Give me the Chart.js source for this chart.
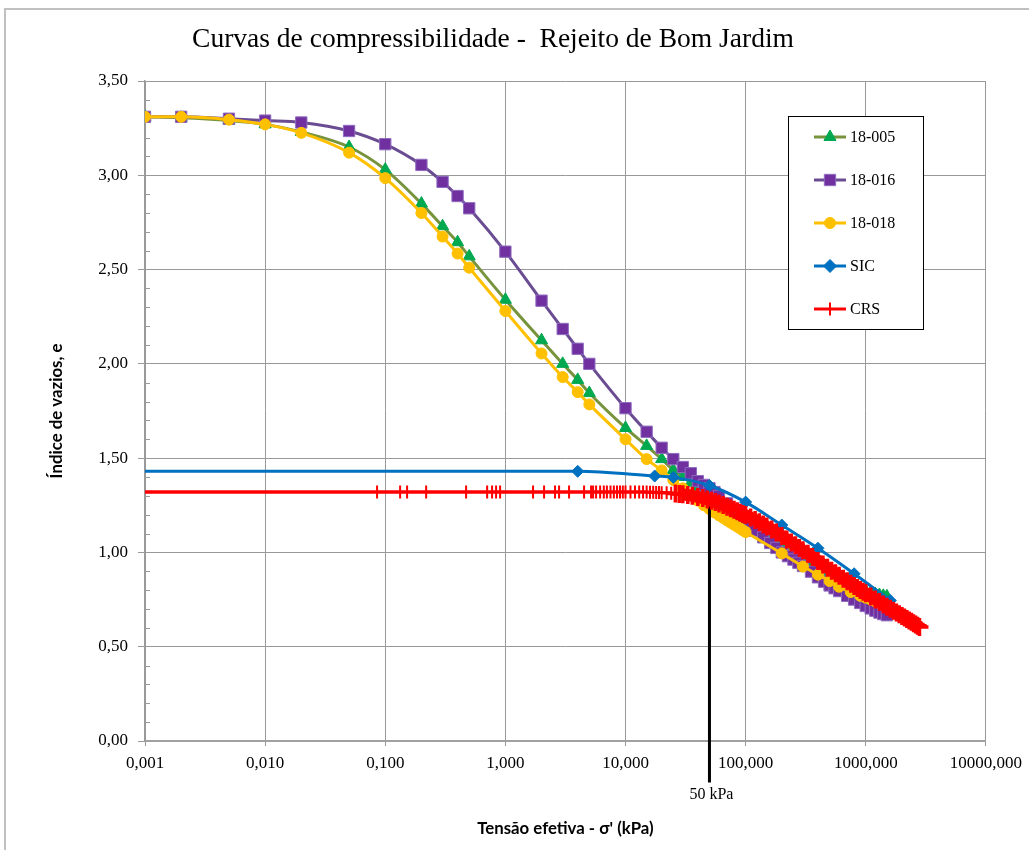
<!DOCTYPE html>
<html lang="pt">
<head>
<meta charset="utf-8">
<title>Curvas de compressibilidade - Rejeito de Bom Jardim</title>
<script src="https://cdn.jsdelivr.net/npm/chart.js@4.4.1/dist/chart.umd.min.js"></script>
<style>
  html, body { margin: 0; padding: 0; background: #fff; }
</style>
</head>
<body>
<canvas id="grafico" width="1029" height="850"></canvas>
<script>
// eixo x (log) - tensão efetiva em kPa
const xTicks = [0.001, 0.01, 0.1, 1, 10, 100, 1000, 10000];
const xTickLabels = ['0,001', '0,010', '0,100', '1,000', '10,000', '100,000', '1000,000', '10000,000'];

// ensaio 18-005
const tensao005 = [0.001, 0.002, 0.005, 0.01, 0.02, 0.05, 0.1, 0.2, 0.3, 0.4, 0.5,
  1, 2, 3, 4, 5, 10, 15, 20, 25, 30, 35, 40, 45, 50, 60, 70, 80, 90, 100,
  120, 140, 160, 180, 200, 250, 300, 350, 400, 450, 500, 600, 700, 800, 900, 1000,
  1100, 1200, 1300, 1400, 1500];
const vazios005 = [3.31, 3.305, 3.29, 3.27, 3.23, 3.15, 3.03, 2.85, 2.73, 2.645, 2.57,
  2.34, 2.125, 2.0, 1.915, 1.845, 1.66, 1.565, 1.495, 1.437, 1.40, 1.37, 1.345, 1.32, 1.30, 1.265, 1.235, 1.21, 1.19, 1.17,
  1.14, 1.11, 1.085, 1.062, 1.04, 1.0, 0.97, 0.945, 0.922, 0.905, 0.89, 0.862, 0.84, 0.822, 0.807, 0.795,
  0.786, 0.779, 0.774, 0.77, 0.767];

// ensaio 18-016
const tensao016 = [0.001, 0.002, 0.005, 0.01, 0.02, 0.05, 0.1, 0.2, 0.3, 0.4, 0.5,
  1, 2, 3, 4, 5, 10, 15, 20, 25, 30, 35, 40, 45, 50, 55, 60, 70, 80, 90, 100,
  110, 120, 140, 160, 180, 200, 225, 250, 275, 300, 350, 400, 450, 500, 550, 600,
  700, 800, 900, 1000, 1100, 1200, 1300, 1400, 1500];
const vazios016 = [3.31, 3.31, 3.30, 3.29, 3.28, 3.235, 3.165, 3.055, 2.965, 2.89, 2.825,
  2.595, 2.335, 2.185, 2.08, 2.0, 1.765, 1.64, 1.555, 1.495, 1.453, 1.42, 1.378, 1.358, 1.34, 1.32, 1.30, 1.26, 1.225, 1.19, 1.16,
  1.135, 1.115, 1.08, 1.05, 1.024, 1.0, 0.98, 0.962, 0.945, 0.928, 0.898, 0.868, 0.845, 0.825, 0.81, 0.795,
  0.77, 0.75, 0.732, 0.716, 0.703, 0.691, 0.681, 0.673, 0.667];

// ensaio 18-018
const tensao018 = [0.001, 0.002, 0.005, 0.01, 0.02, 0.05, 0.1, 0.2, 0.3, 0.4, 0.5,
  1, 2, 3, 4, 5, 10, 15, 20, 25, 30, 35, 40, 45, 50, 55, 60, 65, 70, 75, 80, 85, 90, 95, 100,
  200, 300, 400, 500, 600, 750, 900, 1000, 1100, 1200, 1300, 1400, 1500];
const vazios018 = [3.31, 3.31, 3.295, 3.27, 3.225, 3.12, 2.985, 2.80, 2.675, 2.585, 2.51,
  2.28, 2.055, 1.93, 1.85, 1.785, 1.60, 1.495, 1.435, 1.384, 1.34, 1.305, 1.275, 1.25, 1.23, 1.212, 1.197, 1.183, 1.17, 1.158, 1.147, 1.137, 1.127, 1.117, 1.108,
  0.995, 0.925, 0.882, 0.848, 0.818, 0.79, 0.77, 0.76, 0.75, 0.741, 0.733, 0.726, 0.72];

// ensaio SIC
const tensaoSIC = [0.001, 4, 17.5, 25, 50, 100, 200, 400, 800, 1600];
const vaziosSIC = [1.43, 1.43, 1.405, 1.398, 1.355, 1.267, 1.145, 1.022, 0.887, 0.745];

// ensaio CRS
const tensaoCRS = [0.001, 0.0855, 0.133, 0.152, 0.219, 0.471, 0.705, 0.775, 0.837, 0.904,
  1.70, 2.10, 2.59, 2.80, 3.39, 4.52, 5.17, 5.37, 5.69, 6.15, 6.6,
  7, 7.5, 8, 8.5, 9, 9.5, 10, 11, 12, 13, 14, 15, 16, 17, 18, 19, 20,
  22, 24, 26, 28, 30, 33, 36, 40, 44, 48, 52, 56, 60, 65, 70, 75, 80, 85, 90, 95, 100,
  110, 120, 130, 140, 150, 165, 180, 200, 220, 240, 260, 280, 300,
  330, 360, 400, 440, 480, 520, 560, 600, 650, 700, 750, 800, 850, 900, 950, 1000,
  1100, 1200, 1300, 1400, 1500, 1600, 1700, 1800, 1900, 2000, 2100, 2200, 2300, 2400, 2500, 2600, 2700, 2800];
const vaziosCRS = [1.32, 1.32, 1.32, 1.32, 1.32, 1.32, 1.32, 1.32, 1.32, 1.32,
  1.32, 1.32, 1.32, 1.32, 1.32, 1.32, 1.32, 1.32, 1.32, 1.32, 1.32,
  1.32, 1.32, 1.32, 1.32, 1.32, 1.32, 1.32, 1.32, 1.32, 1.32, 1.32, 1.32, 1.319, 1.319, 1.318, 1.318, 1.317,
  1.316, 1.314, 1.312, 1.31, 1.308, 1.304, 1.30, 1.294, 1.288, 1.281, 1.274, 1.267, 1.26, 1.251, 1.242, 1.234, 1.226, 1.218, 1.211, 1.204, 1.198,
  1.185, 1.172, 1.16, 1.148, 1.137, 1.121, 1.106, 1.087, 1.069, 1.053, 1.038, 1.024, 1.011,
  0.993, 0.976, 0.955, 0.936, 0.919, 0.903, 0.889, 0.876, 0.861, 0.847, 0.834, 0.822, 0.811, 0.801, 0.792, 0.783,
  0.766, 0.751, 0.737, 0.724, 0.712, 0.701, 0.691, 0.681, 0.672, 0.663, 0.655, 0.647, 0.639, 0.632, 0.625, 0.618, 0.611, 0.604];

// linha de referência em 50 kPa
const tensaoRef = [50, 50];
const vaziosRef = [1.29, -0.22];
const rotuloRef = '50 kPa';

const pares = (xs, ys) => xs.map((x, i) => ({ x: x, y: ys[i] }));
const semPrimeiro = r => ctx => (ctx.dataIndex === 0 ? 0 : r);
// no trecho adensado do CRS os marcadores se sobrepõem numa faixa mais grossa
const raioCRS = ctx => (ctx.dataIndex === 0 ? 0 : (ctx.raw && ctx.raw.x > 25 ? 9 : 6.5));
const bordaCRS = ctx => (ctx.raw && ctx.raw.x > 25 ? 3.5 : 2);
const faixaCRS = ctx => (ctx.p0.parsed.x >= 30 ? 12 : 3.5);

const serif = 'Liberation Serif, Times New Roman, serif';
const sans = 'Lato, Open Sans, sans-serif';

const datasets = [
  {
    label: '18-005', data: pares(tensao005, vazios005), order: 6,
    borderColor: '#77933C', borderWidth: 3,
    pointStyle: 'triangle', pointRadius: 7, pointBackgroundColor: '#00A84F', pointBorderColor: '#00A84F', pointBorderWidth: 1
  },
  {
    label: '18-016', data: pares(tensao016, vazios016), order: 5,
    borderColor: '#6A4C93', borderWidth: 3,
    pointStyle: 'rect', pointRadius: 8, pointBackgroundColor: '#7030A0', pointBorderColor: '#8E6BBE', pointBorderWidth: 1
  },
  {
    label: '18-018', data: pares(tensao018, vazios018), order: 4,
    borderColor: '#FFC000', borderWidth: 3,
    pointStyle: 'circle', pointRadius: 5.5, pointBackgroundColor: '#FFC000', pointBorderColor: '#FFC000', pointBorderWidth: 1
  },
  {
    label: 'SIC', data: pares(tensaoSIC, vaziosSIC), order: 3,
    borderColor: '#0070C0', borderWidth: 3,
    pointStyle: 'rectRot', pointRadius: semPrimeiro(6), pointBackgroundColor: '#0070C0', pointBorderColor: '#0070C0', pointBorderWidth: 1
  },
  {
    label: 'CRS', data: pares(tensaoCRS, vaziosCRS), order: 1,
    borderColor: '#FF0000', borderWidth: 3.5,
    segment: { borderWidth: faixaCRS },
    pointStyle: 'cross', pointRadius: raioCRS, pointBackgroundColor: '#FF0000', pointBorderColor: '#FF0000', pointBorderWidth: bordaCRS
  },
  {
    label: rotuloRef, data: pares(tensaoRef, vaziosRef), order: 2, referencia: true,
    borderColor: '#000', borderWidth: 3, pointRadius: 0, clip: false
  }
];

const extras = {
  id: 'extras',
  beforeDraw(chart) {
    const ctx = chart.ctx;
    ctx.save();
    ctx.fillStyle = '#fff';
    ctx.fillRect(0, 0, chart.width, chart.height);
    // moldura do gráfico
    ctx.strokeStyle = '#c0c0c0';
    ctx.lineWidth = 2;
    ctx.strokeRect(5, 9, chart.width + 20, chart.height + 20);
    ctx.restore();
  },
  beforeDatasetsDraw(chart) {
    // marcas secundárias do eixo y a cada 0,1
    const ctx = chart.ctx, y = chart.scales.y, left = chart.chartArea.left;
    ctx.save();
    ctx.strokeStyle = '#999';
    ctx.lineWidth = 1;
    for (let v = 0.1; v < 3.5; v += 0.1) {
      if (Math.abs(v / 0.5 - Math.round(v / 0.5)) < 1e-6) continue;
      const py = Math.round(y.getPixelForValue(v)) + 0.5;
      ctx.beginPath();
      ctx.moveTo(left, py);
      ctx.lineTo(left + 5, py);
      ctx.stroke();
    }
    ctx.restore();
  },
  afterDraw(chart) {
    const ctx = chart.ctx, xs = chart.scales.x, ys = chart.scales.y;
    ctx.save();
    // rótulo da linha de 50 kPa
    ctx.fillStyle = '#000';
    ctx.font = '16px ' + serif;
    ctx.textAlign = 'center';
    ctx.textBaseline = 'middle';
    ctx.fillText(rotuloRef, xs.getPixelForValue(tensaoRef[0]) + 2, ys.getPixelForValue(vaziosRef[1]) + 12);

    // legenda
    const box = { x: 788, y: 116, w: 135, h: 213 };
    ctx.fillStyle = '#fff';
    ctx.fillRect(box.x, box.y, box.w, box.h);
    ctx.strokeStyle = '#000';
    ctx.lineWidth = 1;
    ctx.strokeRect(box.x + 0.5, box.y + 0.5, box.w, box.h);
    const itens = chart.data.datasets.filter(d => !d.referencia);
    itens.forEach((d, i) => {
      const ry = 137 + i * 43;
      ctx.strokeStyle = d.borderColor;
      ctx.lineWidth = 3;
      ctx.beginPath();
      ctx.moveTo(814, ry);
      ctx.lineTo(846, ry);
      ctx.stroke();
      const bw = typeof d.pointBorderWidth === 'function' ? 2 : d.pointBorderWidth;
      const r = typeof d.pointRadius === 'function' ? 6.5 : d.pointRadius;
      ctx.fillStyle = d.pointBackgroundColor;
      ctx.strokeStyle = d.pointBorderColor;
      ctx.lineWidth = bw;
      Chart.helpers.drawPoint(ctx, { pointStyle: d.pointStyle, radius: r, rotation: 0, borderWidth: bw }, 830, ry);
      ctx.fillStyle = '#000';
      ctx.font = '16px ' + serif;
      ctx.textAlign = 'left';
      ctx.textBaseline = 'middle';
      ctx.fillText(d.label, 850, ry + 1);
    });
    ctx.restore();
  }
};

new Chart(document.getElementById('grafico'), {
  type: 'line',
  data: { datasets: datasets },
  plugins: [extras],
  options: {
    responsive: false,
    animation: false,
    devicePixelRatio: 1,
    layout: { padding: { left: 0, right: 43, top: 0, bottom: 0 } },
    elements: { line: { cubicInterpolationMode: 'monotone' } },
    plugins: {
      legend: { display: false },
      tooltip: { enabled: false },
      title: {
        display: true,
        text: 'Curvas de compressibilidade -  Rejeito de Bom Jardim',
        color: '#000',
        font: { family: serif, size: 27.5, weight: 'normal' },
        padding: { top: 23, bottom: 25 }
      }
    },
    scales: {
      x: {
        type: 'logarithmic',
        min: 0.001,
        max: 10000,
        afterBuildTicks: s => { s.ticks = xTicks.map(v => ({ value: v })); },
        afterFit: s => { s.height = 109; },
        ticks: {
          autoSkip: false, maxRotation: 0, padding: 7, color: '#000',
          font: { family: serif, size: 17 },
          callback: v => xTickLabels[xTicks.indexOf(v)]
        },
        grid: { color: '#999', lineWidth: 1, tickLength: 5, tickColor: '#999' },
        border: { color: '#a0a0a0', width: 2 },
        title: {
          display: true, text: 'Tensão efetiva - σ\' (kPa)', color: '#000',
          font: { family: sans, size: 16.8, weight: 'bold' },
          padding: { top: 4, bottom: 11 }
        }
      },
      y: {
        min: 0,
        max: 3.5,
        afterFit: s => { s.width = 145; },
        ticks: {
          stepSize: 0.5, padding: 10, color: '#000',
          font: { family: serif, size: 17 },
          callback: v => v.toFixed(2).replace('.', ',')
        },
        grid: { color: '#999', lineWidth: 1, tickLength: 7, tickColor: '#999' },
        border: { color: '#999', width: 1.5 },
        title: {
          display: true, text: 'Índice de vazios, e', color: '#000',
          font: { family: sans, size: 16.8, weight: 'bold' },
          padding: { top: 47, bottom: 4 }
        }
      }
    }
  }
});
</script>
</body>
</html>
